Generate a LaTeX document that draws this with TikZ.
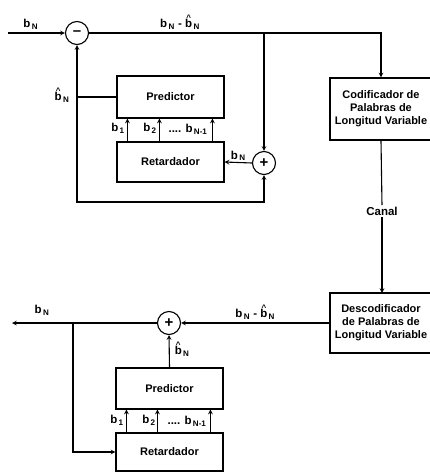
\documentclass[tikz,border=0pt]{standalone}
\usepackage{fontspec}
\setmainfont{Liberation Sans}
\usetikzlibrary{calc}
\newcommand{\bsub}[1]{b\textsubscript{\,#1}}
\newcommand{\bhat}[1]{\ooalign{b\cr\hidewidth\raisebox{0.62em}{\fontsize{8}{8}\selectfont\^{}}\hidewidth\cr}\textsubscript{\,#1}}
\begin{document}
\begin{tikzpicture}[x=1pt,y=-1pt,>=stealth,line width=1.1pt,
    blk/.style={draw, rectangle, inner sep=0pt, font=\fontsize{11}{13}\selectfont\bfseries},
    sumc/.style={draw, circle, minimum size=23pt, inner sep=0pt, font=\fontsize{15}{15}\selectfont\bfseries},
    lbl/.style={font=\fontsize{11.5}{13}\selectfont\bfseries, inner sep=1pt}]
    \useasboundingbox (0,0) rectangle (430,475);
    % codificador
    \node (sub) [sumc] at (77,33) {--};
    \node (pred1) [blk, minimum width=107pt, minimum height=42pt] at (170.5,97) {Predictor};
    \node (ret1) [blk, minimum width=107pt, minimum height=40pt] at (170.5,162) {Retardador};
    \node (add1) [sumc] at (264,163) {+};
    \node (cod) [blk, minimum width=102pt, minimum height=62pt, align=center] at (381,109) {Codificador de\\Palabras de\\Longitud Variable};
    \node (canal) [lbl] at (382,211) {Canal};
    \coordinate (in1) at (8,33);
    \coordinate (br1) at (264,33);
    \coordinate (fb1) at (77,202);
    \draw[->] (in1) -- node[lbl, above=2pt, pos=0.4] {\bsub{N}} (sub);
    \draw[->] (sub) -- node[lbl, above=2pt, pos=0.52] {\bsub{N} - \bhat{N}} (br1) -| (cod.north);
    \draw[->] (br1) -- (add1);
    \draw[->] (pred1.west) -| (sub.south);
    \draw[->] (sub.south |- pred1.west) -- (fb1) -| (add1.south);
    \draw[->] (add1.west) -- node[lbl, above] {\bsub{N}} (ret1.east);
    \foreach \dx in {11,43,96}
        \draw[->] ([xshift=\dx]ret1.north west) -- ([xshift=\dx]pred1.south west);
    \node (h1) [lbl] at (62,97) {\bhat{N}};
    \node (a1) [lbl] at (118,128) {\bsub{1}};
    \node (a2) [lbl] at (150,128) {\bsub{2}};
    \node (a3) [lbl] at (188,129) {.... \bsub{N-1}};
    \draw (cod.south) -- (canal.north);
    \draw[->] (canal.south) -- (382,293);
    % descodificador
    \node (dec) [blk, minimum width=102pt, minimum height=60pt, align=center] at (381,323) {Descodificador\\de Palabras de\\Longitud Variable};
    \node (add2) [sumc] at (169,323) {+};
    \node (pred2) [blk, minimum width=107pt, minimum height=41pt] at (169.5,388.5) {Predictor};
    \node (ret2) [blk, minimum width=107pt, minimum height=38pt] at (169.5,452) {Retardador};
    \coordinate (out2) at (12,323);
    \coordinate (br2) at (73,323);
    \draw[->] (dec.west) -- node[lbl, above=2pt] {\bsub{N} - \bhat{N}} (add2.east);
    \draw[->] (add2.west) -- (out2);
    \node (o2) [lbl] at (42,310) {\bsub{N}};
    \draw[->] (br2) |- (ret2.west);
    \draw[->] (pred2.north) -- node[lbl, right=4pt] {\bhat{N}} (add2.south);
    \foreach \dx in {11,42,95}
        \draw[->] ([xshift=\dx]ret2.north west) -- ([xshift=\dx]pred2.south west);
    \node (c1) [lbl] at (117,420) {\bsub{1}};
    \node (c2) [lbl] at (149,420) {\bsub{2}};
    \node (c3) [lbl] at (187,421) {.... \bsub{N-1}};
\end{tikzpicture}
\end{document}
